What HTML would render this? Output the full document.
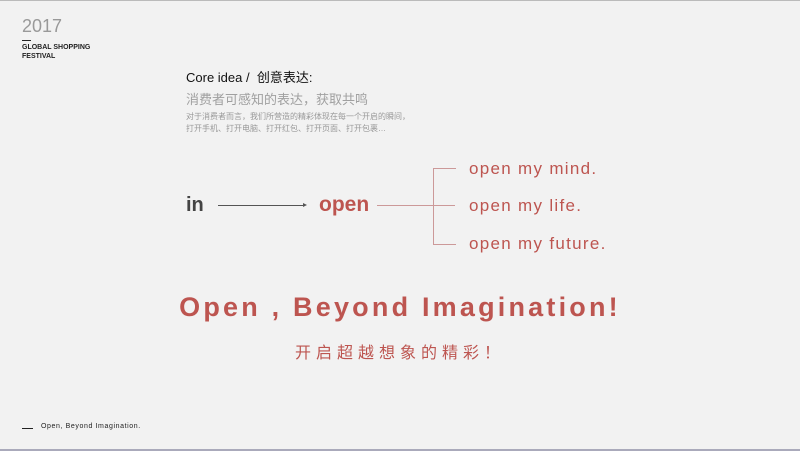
<!DOCTYPE html>
<html><head><meta charset="utf-8"><style>
body{margin:0;width:800px;height:451px;overflow:hidden;background:#f2f2f2;position:relative;font-family:"Liberation Sans","Noto Sans CJK SC",sans-serif}
div,span{position:absolute;white-space:nowrap}
.r{color:#bd5550}
</style></head><body>
<div style="left:0;top:0;width:800px;height:1px;background:#bbb"></div>
<div style="left:0;top:449px;width:800px;height:2px;background:#aab"></div>
<div style="left:22px;top:16px;font-size:18px;color:#999">2017</div>
<div style="left:22px;top:40px;width:9px;height:1px;background:#222"></div>
<div style="left:22px;top:43px;font-size:7px;font-weight:bold;line-height:9px;color:#222">GLOBAL SHOPPING<br>FESTIVAL</div>
<div style="left:186px;top:67px;font-size:13px;color:#111">Core idea /&nbsp; 创意表达:</div>
<div style="left:186px;top:89px;font-size:13px;color:#a0a0a0">消费者可感知的表达，获取共鸣</div>
<div style="left:186px;top:111px;font-size:8px;line-height:12px;color:#999">对于消费者而言，我们所营造的精彩体现在每一个开启的瞬间，<br>打开手机、打开电脑、打开红包、打开页面、打开包裹…</div>
<div style="left:186px;top:194px;font-size:20px;font-weight:bold;color:#444">in</div>
<div style="left:218px;top:205px;width:86px;height:1px;background:#555"></div>
<div style="left:303px;top:203px;width:0;height:0;border-left:4px solid #555;border-top:2.5px solid transparent;border-bottom:2.5px solid transparent"></div>
<div class="r" style="left:319px;top:193px;font-size:21px;font-weight:bold">open</div>
<div style="left:377px;top:205px;width:78px;height:1px;background:#c99"></div>
<div style="left:433px;top:168px;width:22px;height:75px;border:1px solid #c99;border-right:none"></div>
<div class="r" style="left:469px;top:159px;font-size:17px;letter-spacing:1.3px">open my mind.</div>
<div class="r" style="left:469px;top:196px;font-size:17px;letter-spacing:1.3px">open my life.</div>
<div class="r" style="left:469px;top:234px;font-size:17px;letter-spacing:1.3px">open my future.</div>
<div class="r" style="left:0;width:800px;text-align:center;top:292px;font-size:27px;font-weight:bold;letter-spacing:3.2px">Open , Beyond Imagination!</div>
<div class="r" style="left:0;width:800px;text-align:center;top:339px;font-size:16px;letter-spacing:5px">开启超越想象的精彩！</div>
<div style="left:22px;top:428px;width:11px;height:1px;background:#222"></div>
<div style="left:41px;top:423px;font-size:7px;color:#222;letter-spacing:0.6px">Open, Beyond Imagination.</div>
</body></html>
